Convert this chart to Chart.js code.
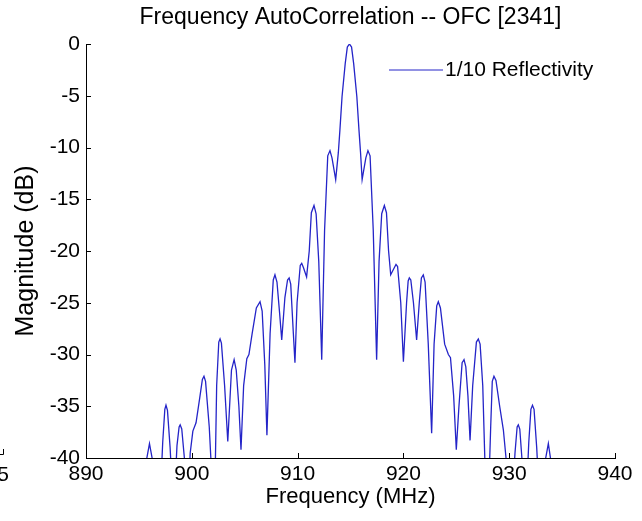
<!DOCTYPE html>
<html>
<head>
<meta charset="utf-8">
<script src="https://cdn.jsdelivr.net/npm/chart.js@4"></script>
<style>
  html, body { margin: 0; padding: 0; background: #fff; }
  #wrap { width: 642px; height: 521px; position: relative; }
</style>
</head>
<body>
<div id="wrap"><canvas id="chart-acf"></canvas></div>
<script>
const title = 'Frequency AutoCorrelation -- OFC [2341]'
const seriesLabel = '1/10 Reflectivity'
const xTitle = 'Frequency (MHz)'
const yTitle = 'Magnitude (dB)'
const xTicks = [890, 900, 910, 920, 930, 940]
const yTicks = [0, -5, -10, -15, -20, -25, -30, -35, -40]

// frequency (MHz), left to right
const freq = [
  895.5, 895.75, 896.0, 896.25, 896.4,
  897.1, 897.25, 897.45, 897.56, 897.7, 897.95, 898.1,
  898.45, 898.6, 898.8, 898.9, 899.05, 899.3, 899.45,
  899.75, 899.85, 900.1, 900.4, 900.75, 901.0, 901.15, 901.3, 901.65, 901.9,
  902.2, 902.35, 902.55, 902.67, 902.8, 903.1, 903.4,
  903.75, 904.0, 904.2, 904.45, 904.65,
  904.9, 905.2, 905.4, 905.7, 906.1, 906.45, 906.65, 906.9, 907.1,
  907.4, 907.7, 907.86, 908.05, 908.3, 908.5,
  908.8, 909.05, 909.2, 909.35, 909.6, 909.75,
  909.95, 910.25, 910.39, 910.55, 910.85,
  911.1, 911.3, 911.55, 911.75, 912.0, 912.28,
  912.55, 912.85, 913.06, 913.25, 913.6,
  913.85, 914.0, 914.2, 914.5, 914.7, 914.9, 915.1, 915.3, 915.6, 915.8, 915.95,
  916.1, 916.45, 916.65, 916.85, 917.15, 917.47,
  917.7, 917.95, 918.2, 918.4, 918.6, 918.8,
  919.15, 919.3, 919.45, 919.75, 920.0,
  920.3, 920.45, 920.56, 920.7, 920.95, 921.25,
  921.5, 921.7, 921.88, 922.05, 922.35, 922.67,
  922.9, 923.15, 923.3, 923.5, 923.9, 924.25, 924.45, 924.75, 925.0,
  925.25, 925.55, 925.73, 925.9, 926.1, 926.3,
  926.55, 926.9, 927.08, 927.25, 927.5, 927.75,
  928.1, 928.25, 928.4, 928.56, 928.75, 929.1, 929.45, 929.7, 929.85,
  930.4, 930.55, 930.75, 930.86, 931.0, 931.2, 931.3,
  931.7, 931.85, 932.05, 932.2, 932.35, 932.6, 932.75,
  933.3, 933.45, 933.7, 933.9, 934.1
]

// magnitude (dB) at each frequency above; nulls deeper than -40 are clipped by the axes
const mag = [
  -42, -40, -38.6, -40, -42,
  -42, -38.5, -35.3, -34.9, -35.4, -39, -42,
  -42, -38.8, -37.0, -36.8, -37.2, -40, -42,
  -42, -39.5, -37.4, -36.6, -34.2, -32.4, -32.1, -32.6, -37, -42,
  -42, -33, -28.8, -28.5, -28.9, -33, -38.4,
  -31.5, -30.5, -31.5, -35, -39.2,
  -33, -30.4, -30.0, -28.0, -25.5, -24.9, -25.8, -31, -37.8,
  -28, -22.8, -22.3, -23, -26, -28.6,
  -24.5, -22.8, -22.6, -23.2, -28, -30.8,
  -25, -21.4, -21.2, -21.6, -22.5,
  -20, -16.3, -15.6, -16.4, -21, -30.5,
  -18, -10.8, -10.3, -11, -13.1,
  -10.5, -8.3, -5.1, -1.9, -0.3, 0, -0.3, -1.9, -5.1, -8.3, -10.5,
  -13.1, -11, -10.3, -10.8, -18, -30.5,
  -21, -16.4, -15.6, -16.3, -20, -22.3,
  -21.6, -21.3, -21.5, -25, -30.7,
  -25, -22.9, -22.6, -22.8, -25, -28.6,
  -25, -22.6, -22.3, -23, -29, -37.6,
  -29, -25.3, -24.9, -25.5, -29, -30.0, -30.3, -34, -39.2,
  -35, -30.8, -30.5, -31.2, -34, -38.3,
  -33, -28.8, -28.5, -29, -33, -42,
  -42, -37, -32.6, -32.1, -32.5, -35, -37.3, -40, -42,
  -42, -39.5, -37.0, -36.8, -37.2, -40, -42,
  -42, -38.5, -35.3, -34.9, -35.3, -39, -42,
  -42, -40, -38.6, -40, -42
]

const FONT = "'Liberation Sans', Arial, Helvetica, sans-serif"
const lineColor = '#2424c8'

// matlab style: title over the axes, ticks point inwards, legend inside the plot box
const matlabBits = {
  id: 'matlabBits',
  afterDraw(chart) {
    const { ctx, chartArea: a, scales: { x, y } } = chart
    ctx.save()
    ctx.fillStyle = '#000'
    ctx.font = '23px ' + FONT
    ctx.textAlign = 'center'
    ctx.textBaseline = 'middle'
    ctx.fillText(title, (a.left + a.right) / 2, a.top - 26)

    ctx.strokeStyle = '#000'
    ctx.lineWidth = 1
    ctx.beginPath()
    xTicks.forEach(v => {
      const px = Math.round(x.getPixelForValue(v)) + 0.5
      ctx.moveTo(px, a.bottom)
      ctx.lineTo(px, a.bottom - 5)
    })
    yTicks.forEach(v => {
      const py = Math.round(y.getPixelForValue(v)) + 0.5
      ctx.moveTo(a.left, py)
      ctx.lineTo(a.left + 5, py)
    })
    ctx.stroke()

    // legend
    const ly = a.top + 26
    ctx.strokeStyle = lineColor
    ctx.beginPath()
    ctx.moveTo(a.right - 226, ly)
    ctx.lineTo(a.right - 172, ly)
    ctx.stroke()
    ctx.font = '21px ' + FONT
    ctx.textAlign = 'left'
    ctx.fillText(seriesLabel, a.right - 170, ly)

    // leftover edge of the neighbouring figure
    ctx.strokeStyle = '#000'
    ctx.beginPath()
    ctx.moveTo(0, a.bottom - 3.5)
    ctx.lineTo(3.5, a.bottom - 3.5)
    ctx.lineTo(3.5, a.bottom - 9)
    ctx.stroke()
    ctx.textAlign = 'right'
    ctx.fillText('5', 9, a.bottom + 17)
    ctx.restore()
  }
}

function drawChart() {
  const canvas = document.getElementById('chart-acf').getContext('2d')
  const points = freq.map((f, i) => ({ x: f, y: mag[i] }))

  const config = {
    type: 'line',
    data: {
      datasets: [{
        label: seriesLabel,
        data: points,
        borderColor: lineColor,
        borderWidth: 1.3,
        pointRadius: 0,
        fill: false,
        tension: 0
      }]
    },
    options: {
      responsive: true,
      maintainAspectRatio: false,
      animation: false,
      layout: { padding: { top: 44, right: 27, bottom: 0, left: 0 } },
      plugins: {
        legend: { display: false },
        tooltip: { enabled: false },
        title: { display: false }
      },
      scales: {
        x: {
          type: 'linear',
          min: 890,
          max: 940,
          afterFit: s => { s.height = 63 },
          afterBuildTicks: s => { s.ticks = xTicks.map(v => ({ value: v })) },
          grid: { display: false, drawTicks: false },
          border: { display: true, color: '#000', width: 1 },
          ticks: { color: '#000', padding: 4, font: { family: FONT, size: 21 } },
          title: {
            display: true,
            text: xTitle,
            color: '#000',
            font: { family: FONT, size: 22 },
            padding: { top: 0, bottom: 11 }
          }
        },
        y: {
          type: 'linear',
          min: -40,
          max: 0,
          afterFit: s => { s.width = 86 },
          afterBuildTicks: s => { s.ticks = yTicks.map(v => ({ value: v })) },
          grid: { display: false, drawTicks: false },
          border: { display: true, color: '#000', width: 1 },
          ticks: { color: '#000', padding: 6, font: { family: FONT, size: 21 } },
          title: {
            display: true,
            text: yTitle,
            color: '#000',
            font: { family: FONT, size: 25 },
            padding: { top: 11, bottom: 0 }
          }
        }
      }
    },
    plugins: [matlabBits]
  }

  new Chart(canvas, config)
}

drawChart()
</script>
</body>
</html>
